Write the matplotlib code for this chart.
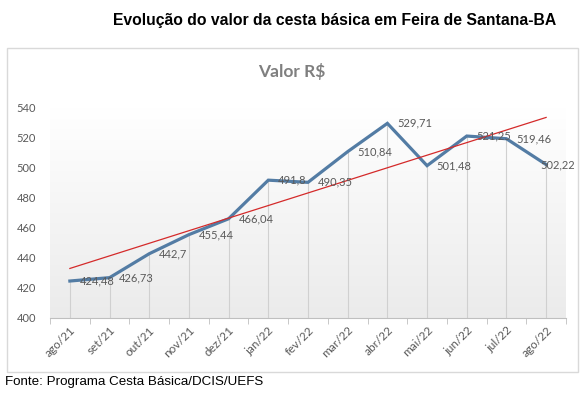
import numpy as np
import matplotlib
matplotlib.use("Agg")
import matplotlib.pyplot as plt
from matplotlib.patches import Rectangle

months = ["ago/21", "set/21", "out/21", "nov/21", "dez/21", "jan/22", "fev/22",
          "mar/22", "abr/22", "mai/22", "jun/22", "jul/22", "ago/22"]
valores = [424.48, 426.73, 442.7, 455.44, 466.04, 491.8, 490.35,
           510.84, 529.71, 501.48, 521.25, 519.46, 502.22]
rotulos = ["424,48", "426,73", "442,7", "455,44", "466,04", "491,8", "490,35",
           "510,84", "529,71", "501,48", "521,25", "519,46", "502,22"]
y_ticks = [400, 420, 440, 460, 480, 500, 520, 540]

GREY_TXT = "#595959"
LINE_BLUE = "#537ca4"
TREND_RED = "#d42a2a"

fig = plt.figure(figsize=(5.81, 3.95), dpi=100)
ax = fig.add_axes([0.0861, 0.1957, 0.888, 0.531])

x = np.arange(len(valores))
y = np.array(valores)

# gradient background of plot area
grad = np.linspace(0, 1, 256).reshape(-1, 1)
cmap = matplotlib.colors.LinearSegmentedColormap.from_list("g", ["#ffffff", "#ebebeb"])
ax.imshow(grad, extent=(-0.5, 12.5, 400, 540), aspect="auto", cmap=cmap,
          origin="upper", zorder=0)

ax.vlines(x, 400, y, color="#d0d0d0", linewidth=0.8, zorder=1)
ax.plot(x, y, color=LINE_BLUE, linewidth=2.3, zorder=3, solid_joinstyle="miter")

coef = np.polyfit(x, y, 1)
ax.plot(x, np.polyval(coef, x), color=TREND_RED, linewidth=0.9, zorder=4)

for i, (xi, yi, lab) in enumerate(zip(x, y, rotulos)):
    dx = -4 if i == len(x) - 1 else 7
    ax.annotate(lab, (xi, yi), xytext=(dx, 0), textcoords="offset points",
                ha="left", va="center", fontsize=8, color=GREY_TXT,
                family="Lato", zorder=5)

ax.set_xlim(-0.5, 12.5)
ax.set_ylim(400, 540)
ax.set_yticks(y_ticks)
ax.set_yticklabels([str(t) for t in y_ticks], fontsize=8, color=GREY_TXT, family="Lato")
ax.set_xticks(x)
ax.set_xticklabels(months, rotation=45, ha="right", rotation_mode="anchor",
                   fontsize=8.5, color=GREY_TXT, family="Lato")
ax.set_xticks(np.arange(-0.5, 13, 1), minor=True)
ax.tick_params(axis="x", which="major", length=0, pad=5)
ax.tick_params(axis="x", which="minor", length=4, color="#bfbfbf", direction="out")
ax.tick_params(axis="y", length=0, pad=10)

for s in ["top", "right", "left"]:
    ax.spines[s].set_visible(False)
ax.spines["bottom"].set_color("#bfbfbf")
ax.spines["bottom"].set_linewidth(0.8)

# chart border
fig.patches.append(Rectangle((7 / 581, 1 - 372 / 395), 571 / 581, 324 / 395,
                             transform=fig.transFigure, fill=False,
                             edgecolor="#d9d9d9", linewidth=1.0))

fig.text(292 / 581, 1 - 71 / 395, "Valor R$", ha="center", va="center",
         fontsize=12.5, fontweight="bold", color="#7f7f7f", family="Lato")
fig.text(335 / 581, 1 - 20 / 395,
         "Evolução do valor da cesta básica em Feira de Santana-BA",
         ha="center", va="center", fontsize=11.3, fontweight="bold",
         color="black", family="Liberation Sans")
fig.text(5 / 581, 1 - 382 / 395, "Fonte: Programa Cesta Básica/DCIS/UEFS",
         ha="left", va="center", fontsize=9.6, color="black", family="Liberation Sans")

fig.savefig("out.png", dpi=100)
plt.close(fig)
